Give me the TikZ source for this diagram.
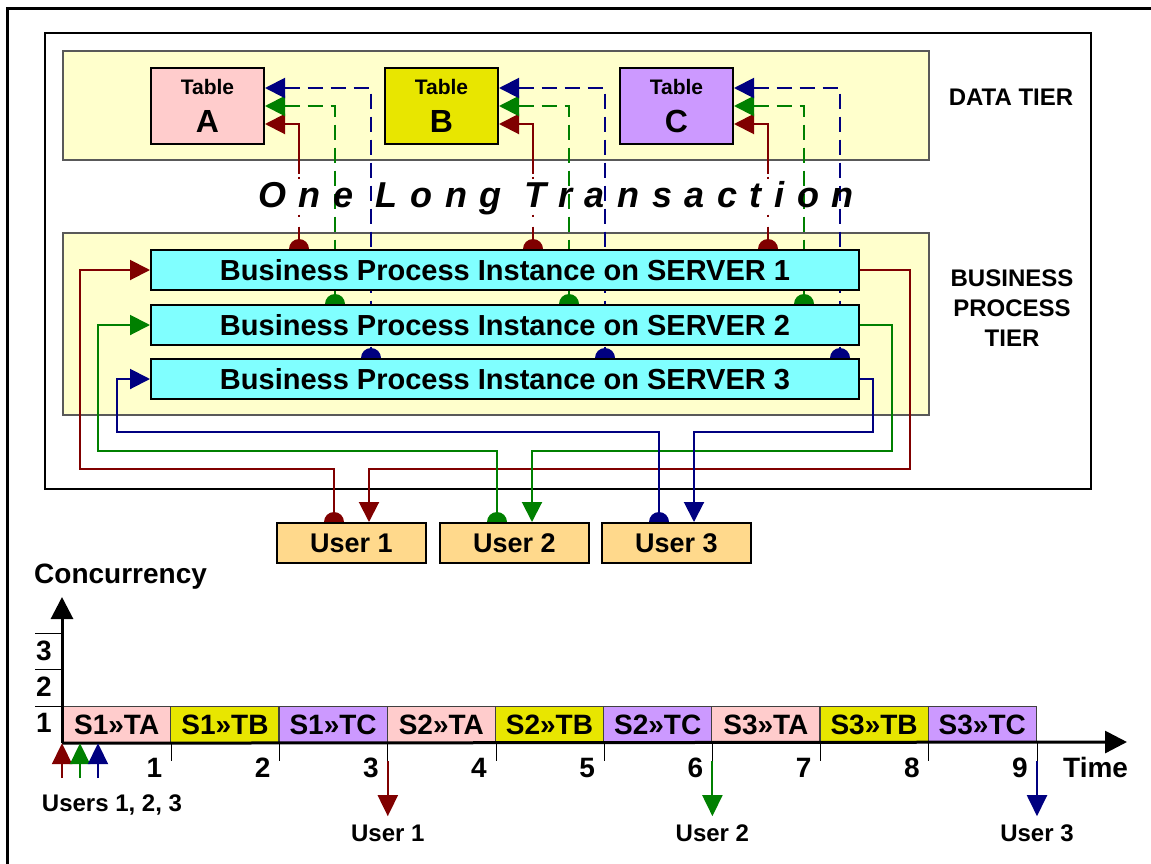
\documentclass[tikz,border=0pt]{standalone}
\usepackage{fontspec}
\setmainfont{Liberation Sans}
\usetikzlibrary{arrows.meta,calc}
\pgfdeclarelayer{bg}
\pgfdeclarelayer{ln}
\pgfsetlayers{bg,ln,main}
\definecolor{dred}{HTML}{800000}
\definecolor{dgreen}{HTML}{008000}
\definecolor{dblue}{HTML}{000080}
\definecolor{tierY}{HTML}{FFFFCC}
\definecolor{pinkT}{HTML}{FFCCCC}
\definecolor{yelT}{HTML}{E8E600}
\definecolor{purT}{HTML}{CC99FF}
\definecolor{cyanS}{HTML}{80FFFF}
\definecolor{userO}{HTML}{FFD98C}
\newcommand{\fs}[1]{\fontsize{#1}{#1}\selectfont}
\begin{document}
\begin{tikzpicture}[x=1pt,y=-1pt,
  box/.style={draw=black,line width=2pt,inner sep=0pt,anchor=north west,font=\bfseries},
  tier/.style={draw=black!65,line width=1.6pt,fill=tierY,inner sep=0pt,anchor=north west},
  tbl/.style={box,minimum width=113pt,minimum height=76pt,align=center,font=\bfseries\fontsize{21}{38}\selectfont},
  srv/.style={box,fill=cyanS,minimum width=708pt,minimum height=40pt,font=\bfseries\fs{29}},
  usr/.style={box,fill=userO,minimum width=149pt,minimum height=40pt,font=\bfseries\fs{27}},
  bar/.style={draw=black!75,line width=1.2pt,inner sep=0pt,anchor=north west,minimum width=108.2pt,minimum height=36pt,font=\bfseries\fs{28}},
  lab/.style={font=\bfseries\fs{24},inner sep=0pt},
  tipT/.style={-{Triangle[length=20pt,width=20pt]}},
  conn/.style={line width=2pt},
  dsh/.style={conn,dash pattern=on 15pt off 8pt},
  rdd/.style={conn,dash pattern=on 64pt off 3pt on 2pt off 36pt on 2pt off 10pt on 300pt off 1pt}
]
\useasboundingbox (0,0) rectangle (1151,863);
% outer frame (only top and left visible)
\draw[line width=3pt] (7,870) -- (7,8) -- (1160,8);
\begin{pgfonlayer}{bg}
\node[draw=black,line width=2pt,fill=white,inner sep=0pt,anchor=north west,minimum width=1046pt,minimum height=456pt] (frame) at (44,32) {};
\node[tier,minimum width=866pt,minimum height=109pt] (dt) at (62,50) {};
\node[tier,minimum width=866pt,minimum height=182pt] (bt) at (62,232) {};
\end{pgfonlayer}
% tables
\node[tbl,fill=pinkT] (tA) at (150,67) {Table\\{\fontsize{32}{38}\selectfont A}};
\node[tbl,fill=yelT] (tB) at (384,67) {Table\\{\fontsize{32}{38}\selectfont B}};
\node[tbl,fill=purT] (tC) at (619,67) {Table\\{\fontsize{32}{38}\selectfont C}};
% servers
\node[srv] (s1) at (150,249) {Business Process Instance on SERVER 1};
\node[srv] (s2) at (150,304) {Business Process Instance on SERVER 2};
\node[srv] (s3) at (150,358) {Business Process Instance on SERVER 3};
% users
\node[usr] (u1) at (276,522) {User 1};
\node[usr] (u2) at (439,522) {User 2};
\node[usr] (u3) at (601,522) {User 3};
% tier labels
\node[lab] (dtl) at (1011,97) {DATA TIER};
\node[lab,align=center,font=\bfseries\fontsize{24}{30}\selectfont] (btl) at (1012,308) {BUSINESS\\PROCESS\\TIER};
% title
\node[inner sep=0pt,anchor=base west,font=\bfseries\itshape\fs{36}\addfontfeature{LetterSpace=35}] (olt) at (258,207) {One Long Transaction};
% table connectors
\begin{pgfonlayer}{ln}
\foreach \t in {tA,tB,tC}{
  \coordinate (\t-r) at ($(\t.east)+(34,0)$);
  \coordinate (\t-g) at ($(\t.east)+(70,0)$);
  \coordinate (\t-b) at ($(\t.east)+(106,0)$);
  \draw[rdd,dred,{Triangle[length=20pt,width=20pt]}-] ($(\t.east)+(0,18)$) -| (\t-r |- s1.north);
  \fill[dred] (\t-r |- s1.north) circle (10pt);
  \draw[dsh,dgreen,{Triangle[length=20pt,width=20pt]}-] (\t.east) -| (\t-g |- s2.north);
  \fill[dgreen] (\t-g |- s2.north) circle (10pt);
  \draw[dsh,dblue,{Triangle[length=20pt,width=20pt]}-] ($(\t.east)+(0,-18)$) -| (\t-b |- s3.north);
  \fill[dblue] (\t-b |- s3.north) circle (10pt);
}
% user connectors
\coordinate (u1-l) at ($(u1.north)+(-17.5,0)$);
\coordinate (u1-r) at ($(u1.north)+(17.5,0)$);
\coordinate (u2-l) at ($(u2.north)+(-17.5,0)$);
\coordinate (u2-r) at ($(u2.north)+(17.5,0)$);
\coordinate (u3-l) at ($(u3.north)+(-17.5,0)$);
\coordinate (u3-r) at ($(u3.north)+(17.5,0)$);
\coordinate (rL) at (80,469);  \coordinate (rR) at (910,469);
\coordinate (gL) at (98,451);  \coordinate (gR) at (892,451);
\coordinate (bL) at (117,432); \coordinate (bR) at (873,432);
\draw[conn,dred,tipT] (u1-l) |- (rL) |- (s1.west);
\draw[conn,dred,tipT] (s1.east) -| (rR) -| (u1-r);
\fill[dred] (u1-l) circle (10pt);
\draw[conn,dgreen,tipT] (u2-l) |- (gL) |- (s2.west);
\draw[conn,dgreen,tipT] (s2.east) -| (gR) -| (u2-r);
\fill[dgreen] (u2-l) circle (10pt);
\draw[conn,dblue,tipT] (u3-l) |- (bL) |- (s3.west);
\draw[conn,dblue,tipT] (s3.east) -| (bR) -| (u3-r);
\fill[dblue] (u3-l) circle (10pt);
\end{pgfonlayer}
% timeline
\foreach \i/\l/\c in {1/S1»TA/pinkT,2/S1»TB/yelT,3/S1»TC/purT,4/S2»TA/pinkT,5/S2»TB/yelT,6/S2»TC/purT,7/S3»TA/pinkT,8/S3»TB/yelT,9/S3»TC/purT}{
  \node[bar,fill=\c] (b\i) at ({62+108.2*(\i-1)},706) {\l};
  \draw[line width=1pt] (b\i.south east) -- ++(0,18);
  \node[inner sep=0pt,anchor=east,font=\bfseries\fs{28}] (n\i) at ($(b\i.south east)+(-9,25)$) {\i};
}
\coordinate (k3) at (35,633); \coordinate (k2) at (35,669); \coordinate (k1) at (35,706);
\draw[line width=1pt] (k3) -- (k3 -| b1.west);
\draw[line width=1pt] (k2) -- (k2 -| b1.west);
\draw[line width=1pt] (k1) -- (k1 -| b1.west);
\node[inner sep=0pt,font=\bfseries\fs{28}] (c3) at (44,651) {3};
\node[inner sep=0pt,font=\bfseries\fs{28}] (c2) at (44,687) {2};
\node[inner sep=0pt,font=\bfseries\fs{28}] (c1) at (44,723) {1};
\coordinate (yTop) at (62,597);
\coordinate (xEnd) at (1127,742);
\draw[line width=3pt,-{Triangle[length=22pt,width=22pt]}] (b1.south west) -- (yTop);
\draw[line width=3pt,-{Triangle[length=22pt,width=22pt]}] (b1.south west) -- (xEnd);
\node[inner sep=0pt,anchor=west,font=\bfseries\fs{28}] (conc) at (34,577) {Concurrency};
\node[inner sep=0pt,anchor=west,font=\bfseries\fs{28}] (time) at (1063,767) {Time};
% start arrows
\coordinate (ur) at (62,778); \coordinate (ug) at (80,778); \coordinate (ub) at (98,778);
\draw[conn,dred,-{Triangle[length=21pt,width=20pt]}] (ur) -- (b1.south west);
\draw[conn,dgreen,-{Triangle[length=21pt,width=20pt]}] (ug) -- (ug |- b1.south);
\draw[conn,dblue,-{Triangle[length=21pt,width=20pt]}] (ub) -- (ub |- b1.south);
\node[lab] (ul) at (112,805) {Users 1, 2, 3};
% end arrows
\foreach \i/\c/\u in {3/dred/1,6/dgreen/2,9/dblue/3}{
  \coordinate (e\i) at ($(b\i.south east)+(0,18)$);
  \coordinate (f\i) at ($(b\i.south east)+(0,73)$);
  \draw[conn,\c,-{Triangle[length=21pt,width=20pt]}] (e\i) -- (f\i);
  \node[lab] (ue\i) at ($(b\i.south east)+(0,90)$) {User \u};
}
\end{tikzpicture}
\end{document}
